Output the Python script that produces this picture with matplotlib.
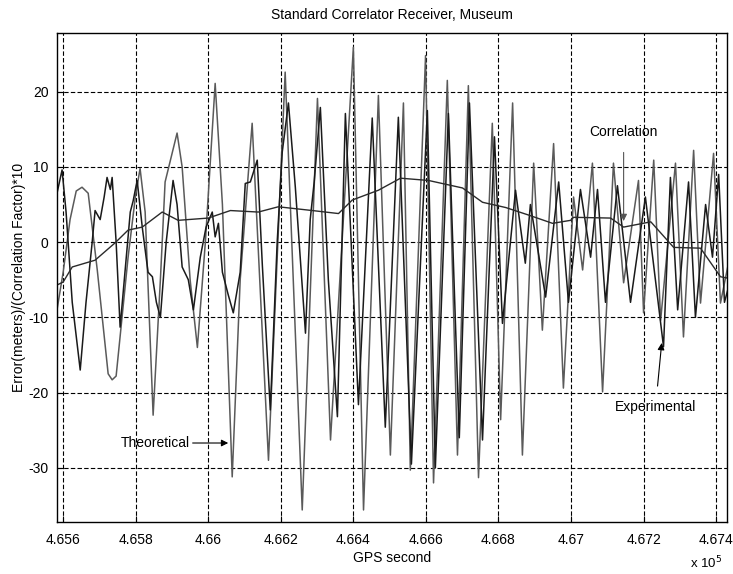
import matplotlib
matplotlib.use("Agg")
import matplotlib.pyplot as plt
import numpy as np

plt.rcParams['font.family'] = ['Liberation Sans', 'DejaVu Sans']
plt.rcParams['axes.unicode_minus'] = False

# ---- data (GPS second, value) ----
theo_t = [465583, 465600, 465619, 465636, 465652, 465669, 465694, 465724, 465735, 465746,
          465779, 465799, 465812, 465826, 465848, 465868, 465881, 465914, 465928, 465950,
          465970, 465992, 466019, 466039, 466066, 466088, 466121, 466166, 466212, 466259,
          466301, 466337, 466400, 466428, 466469, 466502, 466538, 466557, 466599, 466621,
          466659, 466687, 466717, 466745, 466783, 466806, 466839, 466866, 466897, 466921,
          466952, 466979, 467007, 467032, 467059, 467087, 467117, 467145, 467186, 467200,
          467228, 467247, 467288, 467310, 467338, 467357, 467393, 467412, 467434]
theo_v = [-9, -4, 3, 6.8, 7.3, 6.5, -3.7, -17.5, -18.3, -17.8,
          -2, 6, 9.8, 4, -23, -5, 8, 14.5, 10, -5,
          -14, 0, 21.1, 5, -31.2, -5, 15.8, -29, 22.6, -35.6,
          19.1, -26.3, 25.9, -35.6, 19.5, -28.3, 18.5, -30.3, 24.8, -32,
          21.5, -28.3, 20.8, -31.3, 15.8, -23.6, 18.5, -28.3, 10.5, -11.7,
          13.1, -19.4, 6.0, -3.7, 10.5, -19.9, 10.5, -5.4, 8.2, -9.4,
          10.9, -10.4, 10.5, -12.6, 12.2, -8.1, 11.8, -8.1, -2.8]

exp_t = [465583, 465597, 465608, 465625, 465647, 465663, 465680, 465688, 465702, 465713,
         465721, 465730, 465735, 465746, 465757, 465774, 465785, 465793, 465804, 465818,
         465834, 465846, 465857, 465868, 465884, 465903, 465914, 465928, 465945, 465959,
         465978, 465994, 466011, 466019, 466028, 466039, 466055, 466069, 466088, 466102,
         466116, 466135, 466149, 466171, 466190, 466204, 466221, 466240, 466268, 466281,
         466292, 466309, 466331, 466356, 466378, 466414, 466452, 466488, 466524, 466560,
         466604, 466626, 466662, 466692, 466720, 466756, 466789, 466811, 466847, 466874,
         466888, 466930, 466966, 466993, 467026, 467054, 467073, 467095, 467128, 467164,
         467205, 467255, 467274, 467294, 467324, 467343, 467371, 467390, 467407, 467423,
         467434]
exp_v = [6.5, 9.6, 4, -8, -17, -8, 0, 4.2, 3, 6,
         8.6, 7, 8.6, 0, -11.3, -2, 4, 5.5, 8.2, 2,
         -4, -4.6, -8, -10, 0, 8.2, 5, -3.3, -5, -9,
         -2, 2, 4, 0.7, 2.5, -4, -7, -9.4, -4, 7.8,
         8, 10.9, -3, -22.3, 0, 12, 18.5, 7.3, -12.1, 3,
         8, 17.9, -5, -23.2, 17.1, -21.6, 16.5, -24.6, 16.6, -29.5,
         17.5, -30, 17.1, -26, 18.5, -26.3, 14, -10.8, 6.9, -2.8,
         5, -7.3, 8.0, -8, 7, -2, 7, -8, 7.5, -8,
         6, -13.9, 8.6, -9, 8, -10, 5, -2, 9, -8,
         -6]

corr_t = [465583, 465600, 465625, 465688, 465743, 465779, 465818, 465873, 465917, 466000,
          466061, 466138, 466193, 466287, 466359, 466397, 466469, 466530, 466607, 466701,
          466756, 466820, 466883, 466949, 466999, 467007, 467109, 467145, 467220, 467283,
          467357, 467412, 467434]
corr_v = [-5.7, -5.3, -3.3, -2.4, -0.1, 1.6, 2.0, 4.0, 2.9, 3.2,
          4.2, 4.0, 4.7, 4.2, 3.8, 5.6, 6.9, 8.5, 8.2, 7.2,
          5.3, 4.6, 3.6, 2.5, 2.9, 3.3, 3.2, 2.0, 2.7, -0.7,
          -0.8, -4.6, -4.8]

xticks = [465600, 465800, 466000, 466200, 466400, 466600, 466800, 467000, 467200, 467400]
xticklabels = ['4.656', '4.658', '4.66', '4.662', '4.664', '4.666', '4.668', '4.67', '4.672', '4.674']
yticks = [-30, -20, -10, 0, 10, 20]

fig = plt.figure(figsize=(7.33, 5.74), dpi=100)
ax = fig.add_axes([57/733, 1-522/574, (727-57)/733, (522-33)/574])

ax.plot(theo_t, theo_v, color='#5a5a5a', lw=1.1, solid_joinstyle='round')
ax.plot(exp_t, exp_v, color='#1a1a1a', lw=1.1, solid_joinstyle='round')
ax.plot(corr_t, corr_v, color='#2a2a2a', lw=1.0)

ax.set_xlim(465583, 467430)
ax.set_ylim(-37.2, 27.8)
ax.set_xticks(xticks)
ax.set_xticklabels(xticklabels)
ax.set_yticks(yticks)
ax.tick_params(direction='in', length=4, labelsize=10, pad=8, color='black')
ax.tick_params(axis='y', pad=6)
ax.grid(True, color='black', linestyle=(0, (4, 2)), linewidth=0.8)
for s in ax.spines.values():
    s.set_linewidth(1.0)
    s.set_color('black')

ax.set_title('Standard Correlator Receiver, Museum', fontsize=10, pad=10)
ax.set_xlabel('GPS second', fontsize=10, labelpad=3)
ax.set_ylabel('Error(meters)/(Correlation Factor)*10', fontsize=10, labelpad=2)
fig.text(706/733, 1-563/574, r'x 10$^5$', fontsize=9.5, ha='center', va='center')

arrow = dict(arrowstyle='-|>', color='black', lw=0.8, mutation_scale=10)
ax.annotate('Correlation', xy=(467145, 2.8), xytext=(467145, 14.7),
            ha='center', va='center', fontsize=10, arrowprops=dict(arrow, shrinkA=8, shrinkB=0, color='#555555'))
ax.annotate('Experimental', xy=(467250, -13.4), xytext=(467233, -21.9),
            ha='center', va='center', fontsize=10, arrowprops=dict(arrow, shrinkA=8, shrinkB=0))
ax.annotate('Theoretical', xy=(466055, -26.7), xytext=(465854, -26.7),
            ha='center', va='center', fontsize=10, arrowprops=dict(arrow, shrinkA=40, shrinkB=0))

fig.savefig('out.png', dpi=100)
